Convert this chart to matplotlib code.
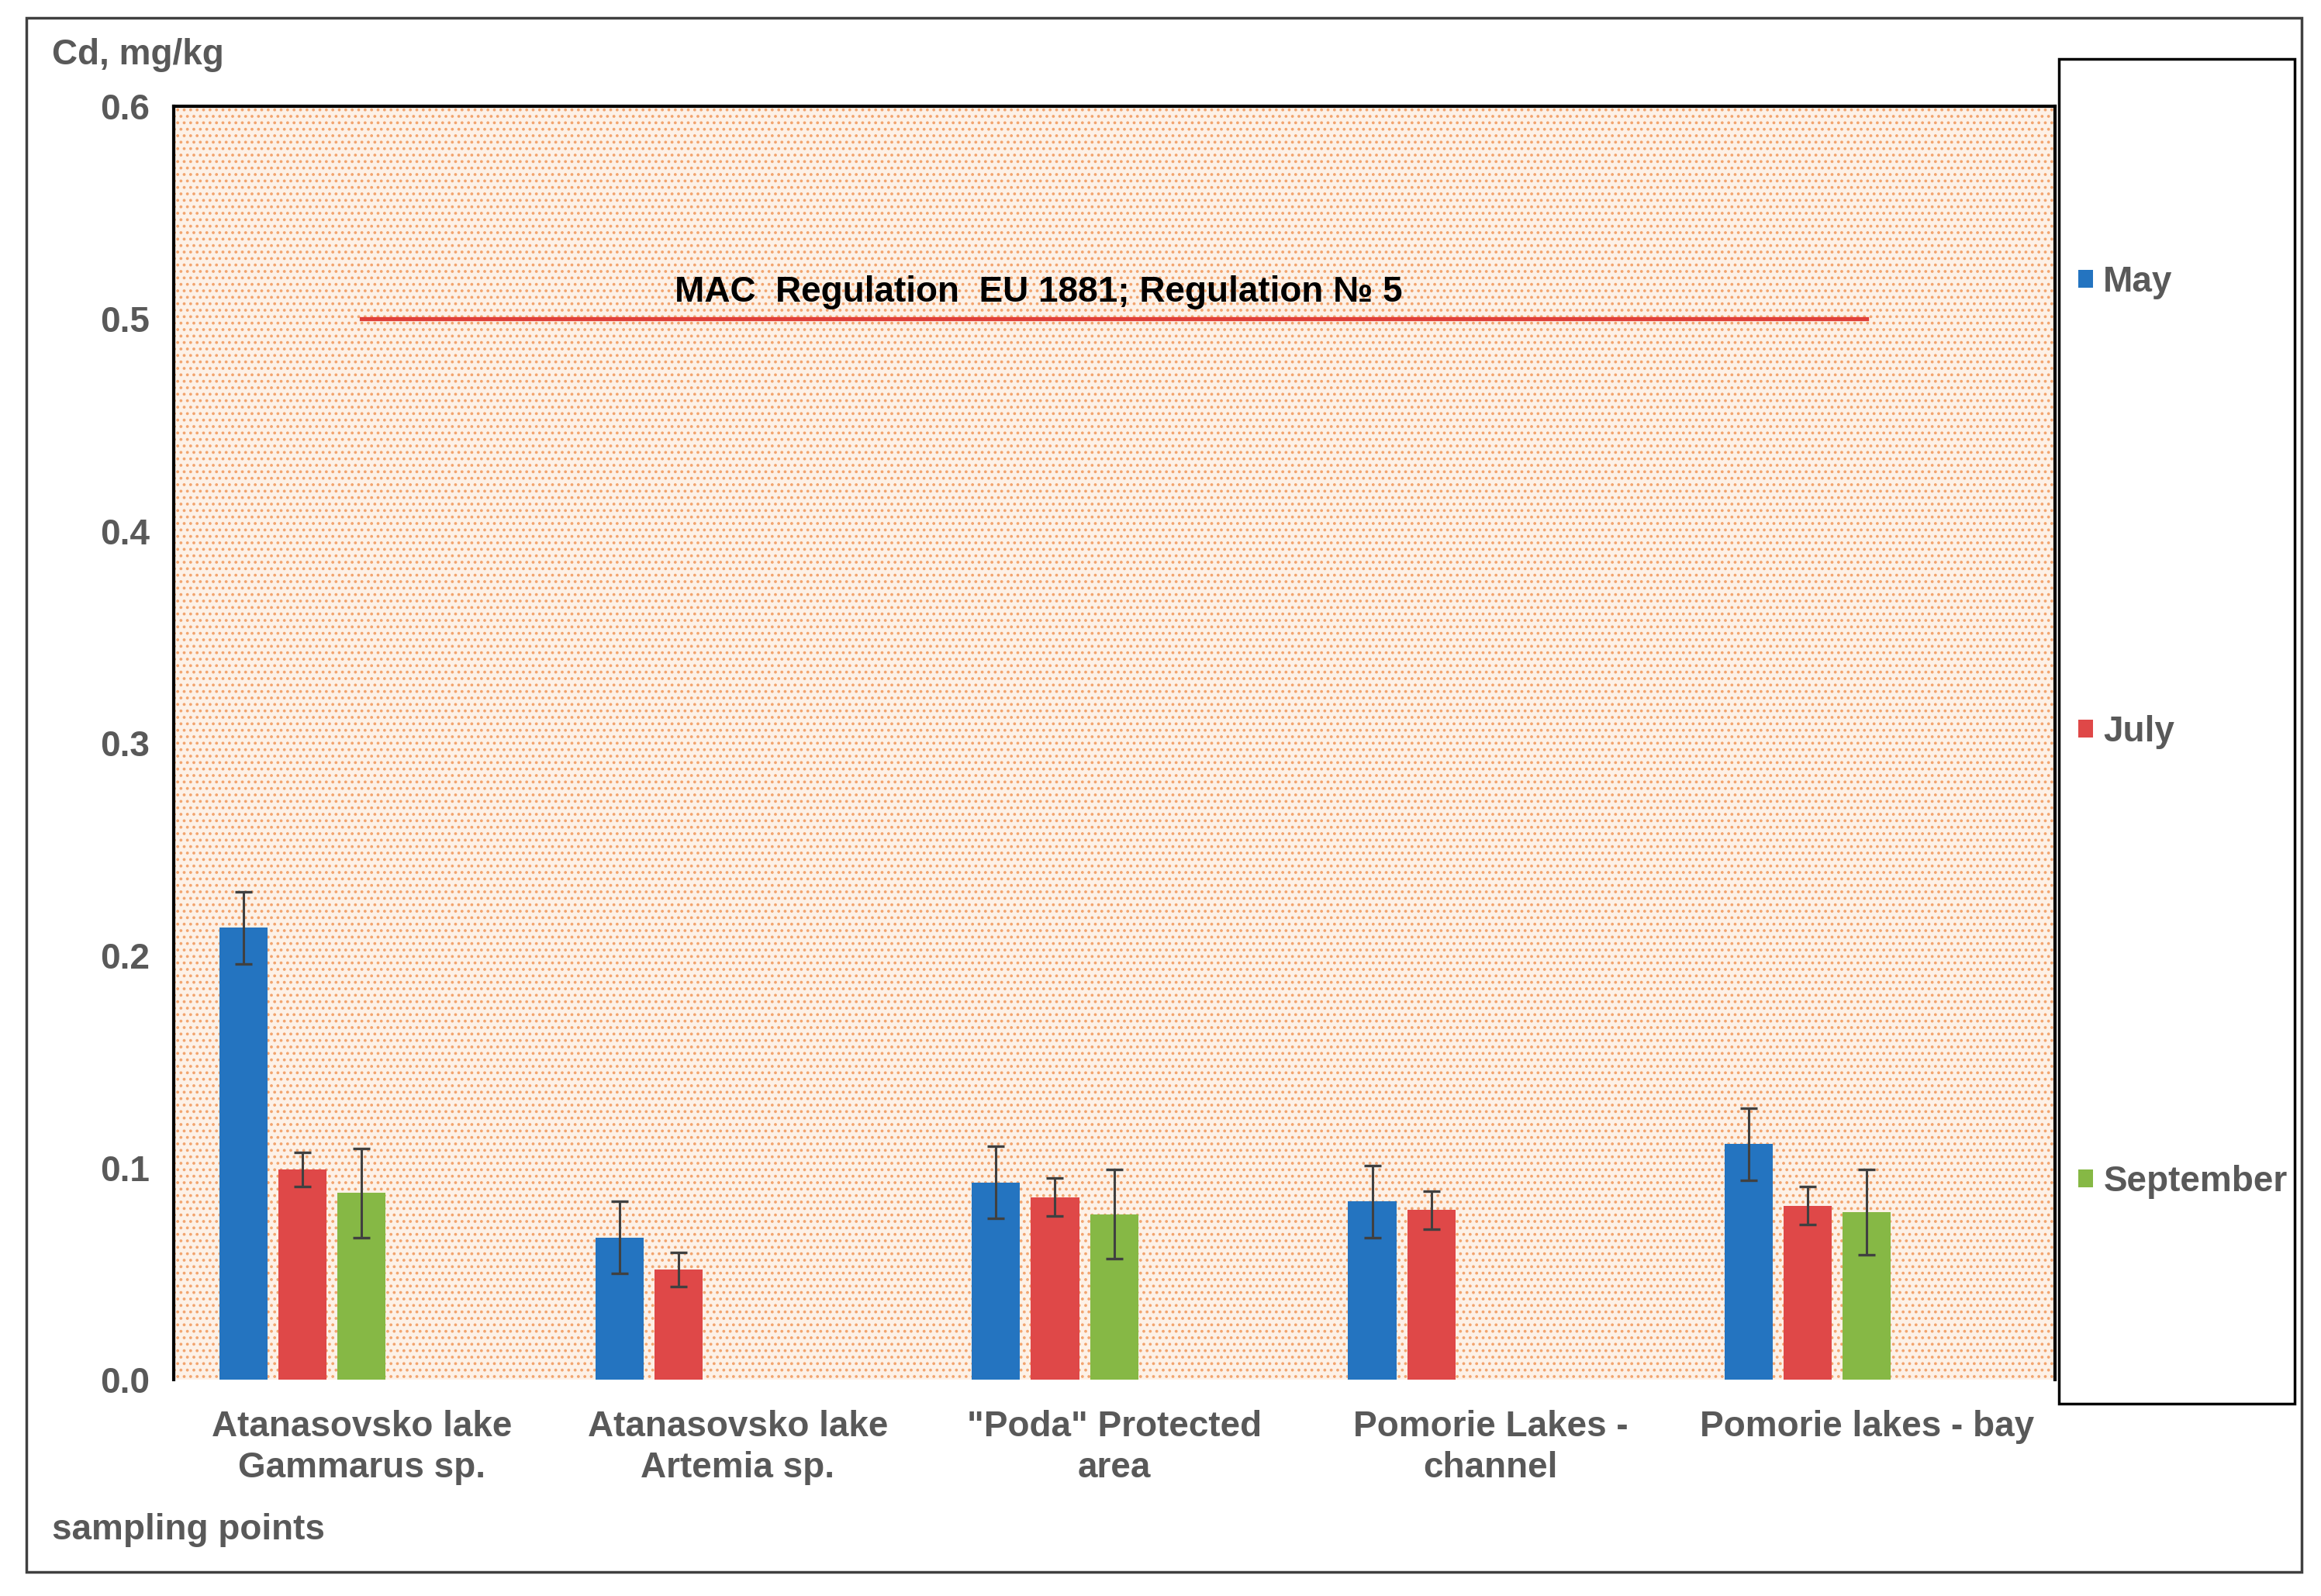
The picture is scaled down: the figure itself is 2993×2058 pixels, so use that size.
import matplotlib.pyplot as plt
from matplotlib.patches import Rectangle
import numpy as np

# ======== Data ========
sites = ['Atanasovsko lake\nGammarus sp.', 'Atanasovsko lake\nArtemia sp.',
         '"Poda" Protected\narea', 'Pomorie Lakes -\nchannel', 'Pomorie lakes - bay']
months = ['May', 'July', 'September']
may = [0.213, 0.067, 0.093, 0.084, 0.111]
may_err = [0.017, 0.017, 0.017, 0.017, 0.017]
july = [0.099, 0.052, 0.086, 0.080, 0.082]
july_err = [0.008, 0.008, 0.009, 0.009, 0.009]
september = [0.088, np.nan, 0.078, np.nan, 0.079]
september_err = [0.021, np.nan, 0.021, np.nan, 0.020]
mac_level = 0.5
mac_label = 'MAC  Regulation  EU 1881; Regulation \u2116 5'

colors = ['#2474C0', '#DF4848', '#86B845']
TXT = '#595959'
FONT = ['Liberation Sans', 'DejaVu Sans']
FS = 33

plt.rcParams['font.family'] = FONT
plt.rcParams['font.weight'] = 'bold'
plt.rcParams['hatch.linewidth'] = 1.5

fig = plt.figure(figsize=(29.93, 20.58), dpi=100)
ax = fig.add_axes([0.0747, 0.1355, 0.8106, 0.7977])

# textured plot area
ax.set_facecolor('#FDF1E7')
ax.add_patch(Rectangle((0, 0), 1, 1, transform=ax.transAxes, facecolor='none',
                       edgecolor='#F2A46E', hatch='..', lw=0, zorder=0))

x = np.arange(len(sites))
width = 0.128
step = 0.157
series = [(may, may_err), (july, july_err), (september, september_err)]
for i, (vals, errs) in enumerate(series):
    pos = x + (i - 2) * step
    ax.bar(pos, vals, width, color=colors[i], label=months[i], zorder=2)
    ax.errorbar(pos, vals, yerr=errs, fmt='none', ecolor='#404040',
                elinewidth=2.2, capsize=8, capthick=2.4, zorder=3)

ax.plot(x, [mac_level] * len(x), color='#E0403A', lw=3.8, zorder=2)
ax.text(1.8, mac_level + 0.0125, mac_label, ha='center', va='center',
        fontsize=FS, color='black', fontweight='bold')

ax.set_xlim(-0.5, 4.5)
ax.set_ylim(0, 0.6)
ax.set_yticks(np.arange(0, 0.61, 0.1))
ax.set_yticklabels(['%.1f' % v for v in np.arange(0, 0.61, 0.1)])
ax.set_xticks(x)
ax.set_xticklabels(sites, linespacing=1.25)
ax.tick_params(axis='both', length=0, labelsize=FS, colors=TXT)
ax.tick_params(axis='x', pad=28)
ax.tick_params(axis='y', pad=22)
for side in ['left', 'top', 'right']:
    ax.spines[side].set_color('black')
    ax.spines[side].set_linewidth(3)
ax.spines['bottom'].set_visible(False)

fig.text(0.0224, 0.9657, 'Cd, mg/kg', fontsize=FS, color=TXT, va='center')
fig.text(0.0224, 0.0412, 'sampling points', fontsize=FS, color=TXT, va='center')

# legend and its box
fig.patches.append(Rectangle((0.8871, 0.1205), 0.1015, 0.8426, transform=fig.transFigure,
                             facecolor='white', edgecolor='black', lw=2.5, zorder=1))
fig.legend(loc='center left', bbox_to_anchor=(0.8955, 0.5413), frameon=False,
           fontsize=FS, labelcolor=TXT, handlelength=0.4, handleheight=0.4,
           handletextpad=0.3, labelspacing=11.7, borderpad=0, borderaxespad=0)

# outer chart frame
fig.patches.append(Rectangle((0.0114, 0.0151), 0.9803, 0.9737, transform=fig.transFigure,
                             facecolor='none', edgecolor='#404040', lw=2.5, zorder=0))

fig.savefig('out.png', dpi=100)
